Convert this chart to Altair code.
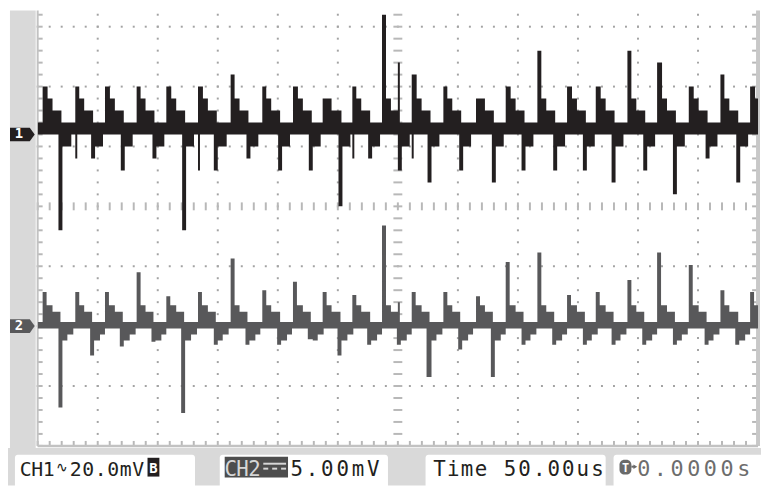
import altair as alt
import numpy as np
import pandas as pd

# ---------------- values read from the screen ----------------
# horizontal: 50 us/div, 12 div, trigger at the centre (0 us)
# vertical: screen divisions (centre line = 0); CH1 20 mV/div, CH2 5 mV/div
cycle_start_us = [-295.9, -269.5, -244.0, -218.4, -192.9, -166.5, -140.1, -113.7,
                  -87.4, -63.4, -38.7, -14.0, 11.5, 37.1, 64.3, 89.8,
                  115.4, 140.9, 164.8, 190.4, 215.9, 242.3, 267.9, 293.4]
ch1_peak_div = [2.0, 2.0, 2.0, 2.0, 2.0, 2.0, 2.2, 2.0, 2.0, 1.8, 2.0, 3.2,
                2.2, 2.0, 1.8, 2.0, 2.6, 2.0, 2.0, 2.6, 2.4, 2.0, 2.2, 2.0]
ch1_spike_low_div = [1.2, 0.8, 1.2, 1.2, 1.2, 0.6, 1.2, 1.2, 1.2, 1.2, 0.8, 1.2,
                     0.8, 1.2, 1.2, 1.2, 1.2, 1.2, 1.2, 1.2, 1.2, 1.2, 1.2, 1.2]
ch1_trough_div = [-0.4, 0.8, 0.6, 0.8, -0.4, 0.6, 0.8, 0.6, 0.6, 0.0, 0.8, 0.6,
                  0.4, 0.6, 0.4, 0.6, 0.6, 0.6, 0.4, 0.6, 0.2, 0.8, 0.4, 1.2]
ch2_peak_div = [-1.43, -1.43, -1.43, -1.10, -1.50, -1.43, -0.87, -1.40, -1.26, -1.43, -1.48, -0.32,
                -1.43, -1.43, -1.50, -0.93, -0.77, -1.48, -1.43, -1.23, -0.77, -0.98, -1.40, -1.43]
ch2_trough_div = [-3.36, -2.49, -2.34, -2.26, -3.45, -2.31, -2.31, -2.31, -2.22, -2.49, -2.31, -2.31,
                  -2.85, -2.39, -2.85, -2.31, -2.31, -2.31, -2.31, -2.31, -2.31, -2.31, -2.31, -2.0]

ch1_band_div = [1.2, 1.4]
ch2_band_div = [-2.04, -1.93]

# shape of one cycle: step edges (us after the spike) and step levels (div from the band)
ch1_hi_edges_us = [0.0, 3.7, 7.8, 15.6]
ch1_hi_levels = [0.4, 0.2]
ch1_lo_edges_us = [13.2, 16.5, 23.1]
ch1_lo_levels = [-0.2]
ch2_hi_edges_us = [0.0, 3.3, 7.8, 14.8]
ch2_hi_levels = [0.28, 0.17]
ch2_lo_edges_us = [12.4, 15.7, 20.6, 25.5]
ch2_lo_levels = [-0.2, -0.1]

# narrow glitches: (time us, low div, high div)
ch1_glitch = [(0.0, 0.6, 2.4)]
ch2_glitch = [(0.0, -2.3, -1.6)]

ch1_marker_div = 1.2
ch2_marker_div = -2.0

x_domain = [-300, 300]
y_domain = [-4.0, 3.27]

# read-out texts: (text, left px, right px, font size)
readouts = [("CH1", 20, 55, 20), ("20.0mV", 70, 146, 20), ("5.00mV", 292, 385, 21),
            ("Time", 437, 493, 21), ("50.00us", 508, 611, 21)]
readout_grey = [("0.0000s", 642, 760, 22)]

# ---------------- build traces ----------------
N = 728
STEP = (x_domain[1] - x_domain[0]) / N
ts = x_domain[0] + np.arange(N + 1) * STEP


def trace(peaks, lows, troughs, band, hi_e, hi_l, lo_e, lo_l, glitches):
    lo = np.full(N + 1, band[0], float)
    hi = np.full(N + 1, band[1], float)
    for t0, pk, pl, tr in zip(cycle_start_us, peaks, lows, troughs):
        hv = [pk] + [band[1] + v for v in hi_l]
        for a, b, v in zip(hi_e[:-1], hi_e[1:], hv):
            m = (ts >= t0 + a - 1e-6) & (ts < t0 + b)
            hi[m] = np.maximum(hi[m], v)
        m = (ts >= t0 - 1e-6) & (ts < t0 + 2 * STEP)
        lo[m] = np.minimum(lo[m], pl)
        lv = [tr] + [band[0] + v for v in lo_l]
        for a, b, v in zip(lo_e[:-1], lo_e[1:], lv):
            m = (ts >= t0 + a - 1e-6) & (ts < t0 + b)
            lo[m] = np.minimum(lo[m], v)
    for t, l, h in glitches:
        m = (ts >= t - 1e-6) & (ts < t + 2 * STEP)
        lo[m] = np.minimum(lo[m], l)
        hi[m] = np.maximum(hi[m], h)
    return pd.DataFrame({"t": ts, "lo": lo, "hi": hi})


ch1 = trace(ch1_peak_div, ch1_spike_low_div, ch1_trough_div, ch1_band_div, ch1_hi_edges_us,
            ch1_hi_levels, ch1_lo_edges_us, ch1_lo_levels, ch1_glitch)
ch2 = trace(ch2_peak_div, [ch2_band_div[0]] * len(ch2_peak_div), ch2_trough_div, ch2_band_div,
            ch2_hi_edges_us, ch2_hi_levels, ch2_lo_edges_us, ch2_lo_levels, ch2_glitch)

xs = alt.Scale(domain=x_domain, nice=False, zero=False)
ys = alt.Scale(domain=y_domain, nice=False, zero=False)
X = lambda f: alt.X(f, type="quantitative", scale=xs, axis=None)
Y = lambda f: alt.Y(f, type="quantitative", scale=ys, axis=None)

PX_X = 600 / 728      # us per pixel
PX_Y = 7.27 / 440     # div per pixel

# grid dots
minor_x = np.arange(-300, 301, 10)
minor_y = np.round(np.arange(-4.0, 3.3, 0.2), 2)
dots = [(gx, gy) for gx in range(-250, 251, 50) if gx != 0 for gy in minor_y]
dots += [(gx, gy) for gy in range(-3, 4) if gy != 0 for gx in minor_x]
dots_df = pd.DataFrame(dots, columns=["x", "y"])

one = pd.DataFrame({"k": [0]})
OX, OY = 38, 8


def rect(x1, x2, y1, y2, color, r=0):
    return alt.Chart(one).mark_rect(color=color, cornerRadius=r).encode(
        x=alt.value(x1 - OX), x2=alt.value(x2 - OX), y=alt.value(y1 - OY), y2=alt.value(y2 - OY))


def text(s, x, y, size=21, color="#231f20", weight="normal", align="left"):
    return alt.Chart(one).mark_text(text=s, font="DejaVu Sans Mono", fontSize=size, color=color,
                                    fontWeight=weight, align=align, baseline="alphabetic").encode(
        x=alt.value(x - OX), y=alt.value(y - OY))


def spaced(s, x1, x2, y, color="#231f20", size=21):
    pitch = (x2 - x1) / len(s)
    df = pd.DataFrame({"ch": list(s), "px": [x1 - OX + pitch * (i + 0.5) for i in range(len(s))]})
    return alt.Chart(df).mark_text(font="DejaVu Sans Mono", fontSize=size, color=color,
                                   align="center", baseline="alphabetic").encode(
        x=alt.X("px:Q", scale=None), y=alt.value(y - OY), text="ch:N")


grid_col = "#a3a3a3"
tick_col = "#b8b8b8"
layers = []
# frame strips
layers.append(rect(10, 36, 8, 452, "#d9d9d9"))
layers.append(rect(8, 769, 450, 488, "#d9d9d9"))
# grid dots
layers.append(alt.Chart(dots_df).mark_square(size=4, color=grid_col, opacity=1).encode(x=X("x"), y=Y("y")))
# centre cross ticks
cx = pd.DataFrame({"x": minor_x, "y1": -4 * PX_Y, "y2": 4 * PX_Y})
layers.append(alt.Chart(cx).mark_rule(color=tick_col, strokeWidth=2).encode(x=X("x"), y=Y("y1"), y2="y2"))
cy = pd.DataFrame({"y": minor_y, "x1": -4.5 * PX_X, "x2": 4.5 * PX_X})
layers.append(alt.Chart(cy).mark_rule(color=tick_col, strokeWidth=2).encode(y=Y("y"), x=X("x1"), x2="x2"))
# border ticks
lt = pd.DataFrame({"y": minor_y, "x1": -300, "x2": -300 + 5 * PX_X})
layers.append(alt.Chart(lt).mark_rule(color=tick_col, strokeWidth=2).encode(y=Y("y"), x=X("x1"), x2="x2"))
rt = pd.DataFrame({"y": minor_y, "x1": 300 - 6 * PX_X, "x2": 300})
layers.append(alt.Chart(rt).mark_rule(color=tick_col, strokeWidth=2).encode(y=Y("y"), x=X("x1"), x2="x2"))
bt = pd.DataFrame({"x": minor_x, "y1": -4, "y2": -4 + 5 * PX_Y})
layers.append(alt.Chart(bt).mark_rule(color=tick_col, strokeWidth=2).encode(x=X("x"), y=Y("y1"), y2="y2"))
# border lines
edge = pd.DataFrame({"x": [-300], "x2": [300], "y": [-4], "y2": [3.27]})
layers.append(alt.Chart(edge).mark_rule(color="#c2c2c2", strokeWidth=2).encode(x=X("x"), y=Y("y"), y2="y2"))
layers.append(alt.Chart(edge).mark_rule(color="#c8c8c8", strokeWidth=4).encode(x=X("x2"), y=Y("y"), y2="y2"))
layers.append(alt.Chart(edge).mark_rule(color="#c2c2c2", strokeWidth=2.5).encode(y=Y("y"), x=X("x"), x2="x2"))
# traces
layers.append(alt.Chart(ch2).mark_area(interpolate="step-after", color="#58585a", clip=True).encode(
    x=X("t"), y=Y("lo"), y2="hi"))
layers.append(alt.Chart(ch1).mark_area(interpolate="step-after", color="#231f20", clip=True).encode(
    x=X("t"), y=Y("lo"), y2="hi"))
# channel markers
tag = "M-1,-0.55 L0.6,-0.55 L1,0 L0.6,0.55 L-1,0.55 Z"
mk = pd.DataFrame({"y": [ch1_marker_div, ch2_marker_div], "c": ["#231f20", "#58585a"], "lab": ["1", "2"]})
layers.append(alt.Chart(mk).mark_point(shape=tag, size=625, filled=True, opacity=1).encode(
    x=alt.value(22.5 - OX), y=Y("y"), color=alt.Color("c:N", scale=None)))
layers.append(alt.Chart(mk).mark_text(font="DejaVu Sans Mono", fontSize=14, fontWeight="bold",
                                      color="white", align="center", baseline="middle").encode(
    x=alt.value(19 - OX), y=Y("y"), text="lab:N"))
# bottom read-outs
layers += [
    rect(15, 197, 457, 492, "white", 3),
    rect(222, 392, 457, 492, "white", 3),
    rect(430, 612, 457, 492, "white", 3),
    rect(620, 775, 457, 492, "white", 3),
    text("\u223f", 57, 474, size=14),
    rect(149, 161, 460, 479, "#231f20"),
    text("B", 155, 475, size=14, color="white", weight="bold", align="center"),
    rect(227, 291, 459, 480, "#4d4d4d"),
    spaced("CH2", 227, 263, 478, color="#d6d6d6"),
    rect(266, 289, 465, 467, "#d6d6d6"),
    rect(266, 271, 470, 472, "#d6d6d6"),
    rect(275, 280, 470, 472, "#d6d6d6"),
    rect(284, 289, 470, 472, "#d6d6d6"),
    rect(626, 638, 462, 477, "#6a6a6a", 5),
    text("T", 632, 474, size=12, color="white", weight="bold", align="center"),
    rect(638, 641, 468, 470, "#6a6a6a"),
]
layers.append(alt.Chart(one).mark_point(shape="triangle-right", size=20, filled=True, opacity=1,
                                         color="#6a6a6a").encode(x=alt.value(642 - OX), y=alt.value(469 - OY)))
for s, a, b, fs in readouts:
    layers.append(spaced(s, a, b, 478, size=fs))
for s, a, b, fs in readout_grey:
    layers.append(spaced(s, a, b, 478, color="#6d6d6d", size=fs))

chart = alt.layer(*layers).properties(
    width=728, height=440, autosize="none",
    padding={"left": 30, "top": 0, "right": 3, "bottom": 40},
    background="white",
).configure_view(strokeWidth=0)

chart.save("out.html", embed_options={"renderer": "svg", "actions": False})
